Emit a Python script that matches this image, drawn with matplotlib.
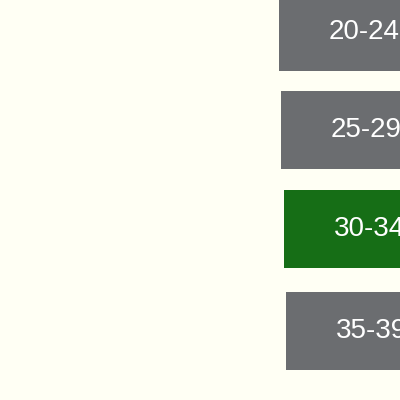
import matplotlib.pyplot as plt

plt.rcParams['font.family'] = ['Liberation Sans', 'DejaVu Sans']

age_groups = ["20-24", "25-29", "30-34", "35-39"]
highlight = "30-34"

fig = plt.figure(figsize=(4, 4), dpi=100)
fig.patch.set_facecolor("#fffff4")
ax = fig.add_axes([0, 0, 1, 1])
ax.set_facecolor("#fffff4")
ax.set_xlim(0, 400)
ax.set_ylim(400, 0)
ax.axis("off")

centers = [32, 130, 229, 331]
lefts = [279, 281, 284, 286]
for label, yc, x0 in zip(age_groups, centers, lefts):
    color = "#166e16" if label == highlight else "#6b6d70"
    ax.barh(yc, 140, left=x0, height=78, color=color)
    ax.text(x0 + 50, yc, label, color="white", fontsize=20,
            ha="left", va="center")

plt.savefig("out.png", dpi=100, facecolor=fig.get_facecolor())
